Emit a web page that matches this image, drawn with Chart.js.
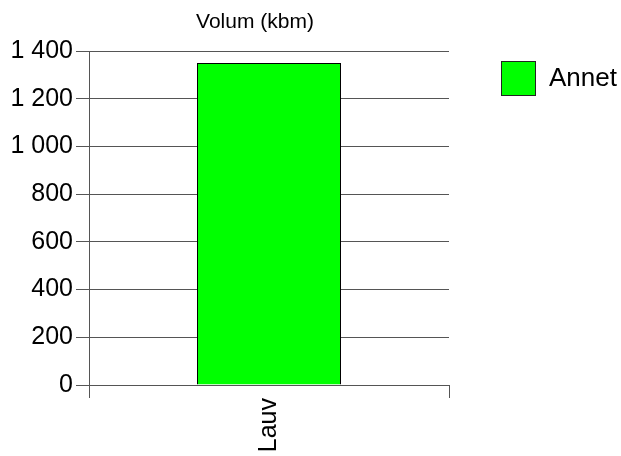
<!DOCTYPE html>
<html>
<head>
<meta charset="utf-8">
<script src="https://cdn.jsdelivr.net/npm/chart.js@4.4.1/dist/chart.umd.min.js"></script>
<style>
  html, body { margin: 0; padding: 0; background: #ffffff; }
  #wrap { width: 621px; height: 456px; }
</style>
</head>
<body>
<div id="wrap"><canvas id="c" width="621" height="456"></canvas></div>
<script>
const categories = ['Lauv'];
const seriesName = 'Annet';
const seriesValues = [1350];
const yTicks = [0, 200, 400, 600, 800, 1000, 1200, 1400];
const chartTitle = 'Volum (kbm)';

const FONT = '"Liberation Sans", Arial, sans-serif';

function fmt(v) {
  const s = String(Math.round(v));
  return s.replace(/\B(?=(\d{3})+(?!\d))/g, ' ');
}

// Title drawn over the left part of the figure (as in the reference)
const titlePlugin = {
  id: 'manualTitle',
  afterDraw(chart) {
    const ctx = chart.ctx;
    ctx.save();
    ctx.font = '21px ' + FONT;
    ctx.fillStyle = '#000';
    ctx.textAlign = 'center';
    ctx.textBaseline = 'middle';
    ctx.fillText(chartTitle, 255, 22);
    ctx.restore();
  }
};

// Legend built from the chart's own datasets, placed right of the plot
const legendPlugin = {
  id: 'sideLegend',
  afterDraw(chart) {
    const ctx = chart.ctx;
    const area = chart.chartArea;
    const box = 35, gapX = 52, gapY = 10, fs = 26;
    ctx.save();
    chart.data.datasets.forEach((ds, i) => {
      const x = area.right + gapX;
      const y = area.top + gapY + i * (box + 10);
      ctx.fillStyle = ds.backgroundColor;
      ctx.fillRect(x, y, box, box);
      ctx.lineWidth = 1;
      ctx.strokeStyle = '#222';
      ctx.strokeRect(x + 0.5, y + 0.5, box - 1, box - 1);
      ctx.font = fs + 'px ' + FONT;
      ctx.fillStyle = '#000';
      ctx.textAlign = 'left';
      ctx.textBaseline = 'middle';
      ctx.fillText(ds.label, x + box + fs / 2, y + box / 2);
    });
    ctx.restore();
  }
};

new Chart(document.getElementById('c'), {
  type: 'bar',
  data: {
    labels: categories,
    datasets: [{
      label: seriesName,
      data: seriesValues,
      backgroundColor: '#00ff00',
      borderColor: '#000000',
      borderWidth: 1,
      barPercentage: 0.4,
      categoryPercentage: 1.0
    }]
  },
  options: {
    responsive: false,
    animation: false,
    devicePixelRatio: 1,
    layout: { padding: { top: 51, left: 0, right: 172, bottom: 0 } },
    plugins: {
      title: { display: false },
      tooltip: { enabled: false },
      legend: { display: false }
    },
    scales: {
      x: {
        type: 'category',
        offset: true,
        grid: {
          display: true,
          offset: true,
          drawOnChartArea: false,
          drawTicks: true,
          tickLength: 13,
          color: '#555'
        },
        border: { display: true, color: '#555', width: 1 },
        ticks: {
          color: '#000',
          font: { family: FONT, size: 25 },
          maxRotation: 90,
          minRotation: 90,
          padding: 0
        },
        afterFit(s) { s.height = 71; }
      },
      y: {
        type: 'linear',
        min: 0,
        max: 1400,
        afterBuildTicks(s) { s.ticks = yTicks.map(v => ({ value: v })); },
        grid: {
          display: true,
          drawTicks: true,
          tickLength: 13,
          color: '#555'
        },
        border: { display: true, color: '#555', width: 1 },
        ticks: {
          color: '#000',
          padding: 3,
          font: { family: FONT, size: 25 },
          callback: (v) => fmt(v)
        },
        afterFit(s) { s.width = 89; }
      }
    }
  },
  plugins: [titlePlugin, legendPlugin]
});
</script>
</body>
</html>
